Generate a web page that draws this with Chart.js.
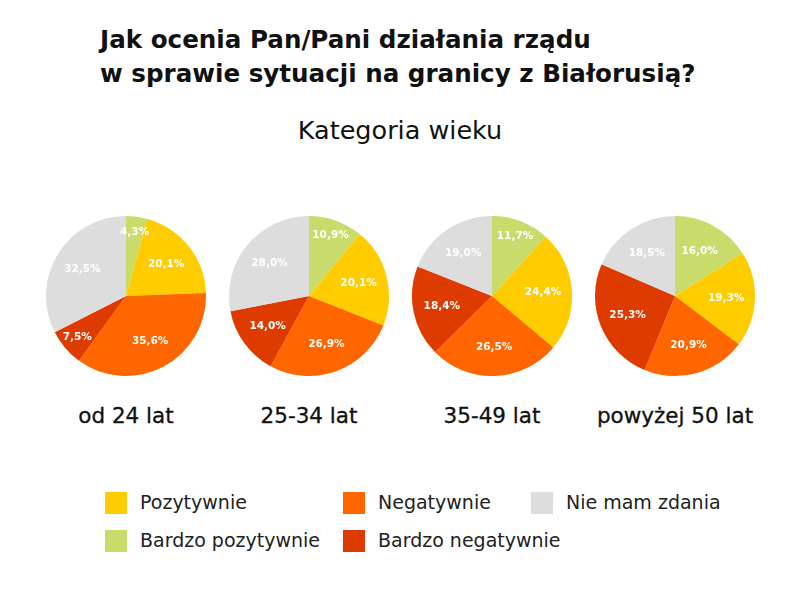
<!DOCTYPE html>
<html>
<head>
<meta charset="utf-8">
<script src="https://cdn.jsdelivr.net/npm/chart.js@4.4.0/dist/chart.umd.min.js"></script>
<style>
  body { margin: 0; background: #fff; font-family: 'DejaVu Sans', sans-serif; }
  #page { position: relative; width: 800px; height: 593px; overflow: hidden; }
  .title { position: absolute; left: 100px; top: 23px; font-weight: bold; font-size: 24.6px; line-height: 34px; color: #111; }
  .sub { position: absolute; left: 0; width: 800px; top: 115px; text-align: center; font-size: 25.5px; color: #111; }
  .pie { position: absolute; top: 214px; width: 164px; height: 164px; }
  .age { position: absolute; top: 403px; width: 200px; text-align: center; font-size: 21.5px; color: #111; -webkit-text-stroke: 0.3px #111; }
  .leg { position: absolute; font-size: 19px; color: #222; }
  .leg span.sw { position: absolute; left: 0; top: 0px; width: 22px; height: 22px; }
  .leg span.tx { position: absolute; left: 35px; top: -1px; white-space: nowrap; }
</style>
</head>
<body>
<div id="page">
  <div class="title">Jak ocenia Pan/Pani działania rządu<br>w sprawie sytuacji na granicy z Białorusią?</div>
  <div class="sub">Kategoria wieku</div>
  <div id="pies"></div>
  <div id="legend"></div>
</div>
<script>
// slice order, clockwise from 12 o'clock
const categories = ['Bardzo pozytywnie', 'Pozytywnie', 'Negatywnie', 'Bardzo negatywnie', 'Nie mam zdania'];
const colors = ['#C9DB6B', '#FFCC00', '#FF6600', '#DD3B00', '#DDDDDD'];

const groups = ['od 24 lat', '25-34 lat', '35-49 lat', 'powyżej 50 lat'];
const od24 = [4.3, 20.1, 35.6, 7.5, 32.5];
const age2534 = [10.9, 20.1, 26.9, 14.0, 28.0];
const age3549 = [11.7, 24.4, 26.5, 18.4, 19.0];
const age50plus = [16.0, 19.3, 20.9, 25.3, 18.5];
const series = [od24, age2534, age3549, age50plus];

const centersX = [126, 309, 492, 675];

// legend layout: [category index, left, top]
const legendItems = [[1, 105, 492], [2, 343, 492], [4, 531, 492], [0, 105, 530], [3, 343, 530]];

const sliceLabels = {
  id: 'sliceLabels',
  afterDatasetsDraw(chart) {
    const ctx = chart.ctx;
    const meta = chart.getDatasetMeta(0);
    const vals = chart.data.datasets[0].data;
    ctx.save();
    ctx.fillStyle = '#fff';
    ctx.font = 'bold 10.5px "DejaVu Sans"';
    ctx.textAlign = 'center';
    ctx.textBaseline = 'middle';
    meta.data.forEach((arc, i) => {
      const p = arc.getProps(['x', 'y', 'startAngle', 'endAngle', 'outerRadius'], true);
      const mid = (p.startAngle + p.endAngle) / 2;
      const f = vals[i] < 12 ? 0.8 : 0.64;
      const r = p.outerRadius * f;
      ctx.fillText(vals[i].toFixed(1).replace('.', ',') + '%', p.x + Math.cos(mid) * r, p.y + Math.sin(mid) * r);
    });
    ctx.restore();
  }
};

const piesEl = document.getElementById('pies');
series.forEach((vals, gi) => {
  const box = document.createElement('div');
  box.className = 'pie';
  box.style.left = (centersX[gi] - 82) + 'px';
  const cv = document.createElement('canvas');
  box.appendChild(cv);
  piesEl.appendChild(box);

  const lab = document.createElement('div');
  lab.className = 'age';
  lab.style.left = (centersX[gi] - 100) + 'px';
  lab.textContent = groups[gi];
  document.getElementById('page').appendChild(lab);

  new Chart(cv, {
    type: 'pie',
    data: {
      labels: categories,
      datasets: [{ data: vals, backgroundColor: colors, borderWidth: 0 }]
    },
    options: {
      responsive: true,
      maintainAspectRatio: false,
      animation: false,
      layout: { padding: 2 },
      plugins: { legend: { display: false }, tooltip: { enabled: false } }
    },
    plugins: [sliceLabels]
  });
});

const legEl = document.getElementById('legend');
legendItems.forEach(([ci, x, y]) => {
  const d = document.createElement('div');
  d.className = 'leg';
  d.style.left = x + 'px';
  d.style.top = y + 'px';
  d.innerHTML = '<span class="sw" style="background:' + colors[ci] + '"></span><span class="tx">' + categories[ci] + '</span>';
  legEl.appendChild(d);
});
</script>
</body>
</html>
